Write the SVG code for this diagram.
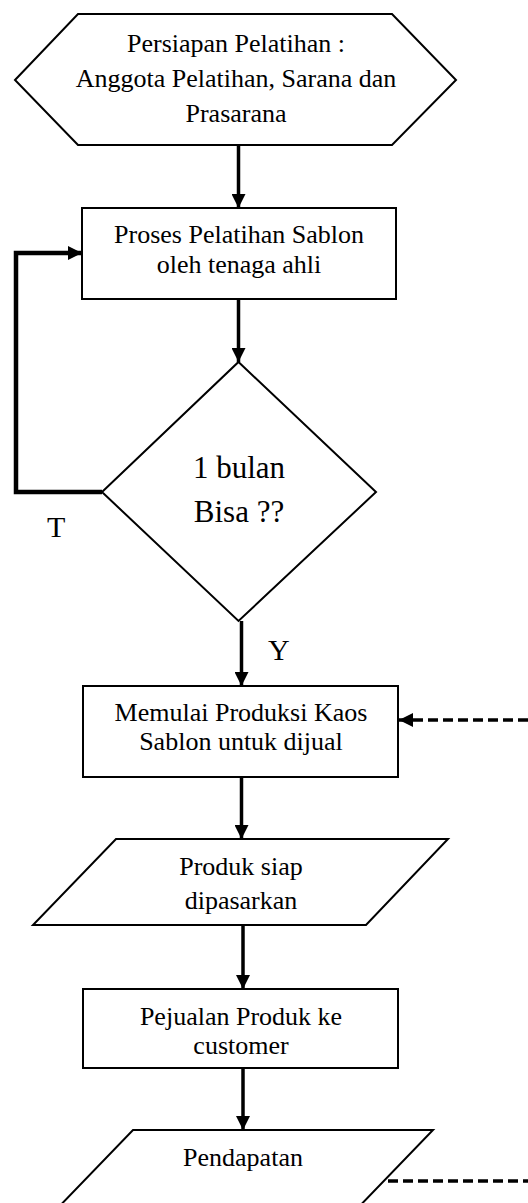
<svg xmlns="http://www.w3.org/2000/svg" width="528" height="1203" viewBox="0 0 528 1203">
<style>
.shape{fill:#fff;stroke:#000;stroke-width:2}
.t{font-family:"Liberation Serif","Times New Roman",serif;font-size:26px;fill:#000;text-anchor:middle}
.big{font-size:31px}
.lbl{font-family:"Liberation Serif","Times New Roman",serif;font-size:30px;fill:#000}
.c{fill:none;stroke:#000;stroke-width:3.5}
.d{fill:none;stroke:#000;stroke-width:3.5;stroke-dasharray:10 5}
</style>
<defs>
<marker id="ah" viewBox="0 0 14 14" refX="14" refY="7" markerWidth="14" markerHeight="14" markerUnits="userSpaceOnUse" orient="auto">
<path d="M0,0 L14,7 L0,14 Z" fill="#000"/>
</marker>
</defs>
<rect width="528" height="1203" fill="#fff"/>
<g id="connectors">
<line class="c" x1="238.5" y1="145" x2="238.5" y2="208" marker-end="url(#ah)"/>
<line class="c" x1="238.5" y1="299" x2="238.5" y2="362" marker-end="url(#ah)"/>
<polyline class="c" style="stroke-width:4.5" points="102,492 16,492 16,253 82,253" marker-end="url(#ah)"/>
<line class="c" x1="241.5" y1="621" x2="241.5" y2="686" marker-end="url(#ah)"/>
<line class="c" x1="241.5" y1="777" x2="241.5" y2="839" marker-end="url(#ah)"/>
<line class="c" x1="243" y1="925" x2="243" y2="989" marker-end="url(#ah)"/>
<line class="c" x1="243" y1="1068" x2="243" y2="1130" marker-end="url(#ah)"/>
<line class="d" x1="528" y1="720" x2="399" y2="720" marker-end="url(#ah)"/>
<line class="d" x1="388" y1="1181" x2="528" y2="1181"/>
<text class="lbl" x="47" y="537">T</text>
<text class="lbl" x="268" y="660">Y</text>
</g>
<g id="start">
<polygon class="shape" points="15,80 78,14 392,14 456,80 392,145 78,145"/>
<text class="t" x="236" y="52">Persiapan Pelatihan :</text>
<text class="t" x="236" y="87">Anggota Pelatihan, Sarana dan</text>
<text class="t" x="236" y="122">Prasarana</text>
</g>
<g id="pelatihan">
<rect class="shape" x="82" y="208" width="314" height="91"/>
<text class="t" x="239" y="243">Proses Pelatihan Sablon</text>
<text class="t" x="239" y="273">oleh tenaga ahli</text>
</g>
<g id="decision">
<polygon class="shape" points="238.5,362 376,492 238.5,621 102,492"/>
<text class="t big" x="239" y="478">1 bulan</text>
<text class="t big" x="239" y="522">Bisa ??</text>
</g>
<g id="produksi">
<rect class="shape" x="83" y="686" width="315" height="91"/>
<text class="t" x="241" y="721">Memulai Produksi Kaos</text>
<text class="t" x="241" y="750">Sablon untuk dijual</text>
</g>
<g id="produk">
<polygon class="shape" points="116,839 448,839 366,925 33,925"/>
<text class="t" x="241" y="875">Produk siap</text>
<text class="t" x="241" y="909">dipasarkan</text>
</g>
<g id="penjualan">
<rect class="shape" x="83" y="989" width="315" height="79"/>
<text class="t" x="241" y="1025">Pejualan Produk ke</text>
<text class="t" x="241" y="1054">customer</text>
</g>
<g id="pendapatan">
<polygon class="shape" points="133,1130 433,1130 351,1215 51,1215"/>
<text class="t" x="243" y="1166">Pendapatan</text>
</g>
</svg>
